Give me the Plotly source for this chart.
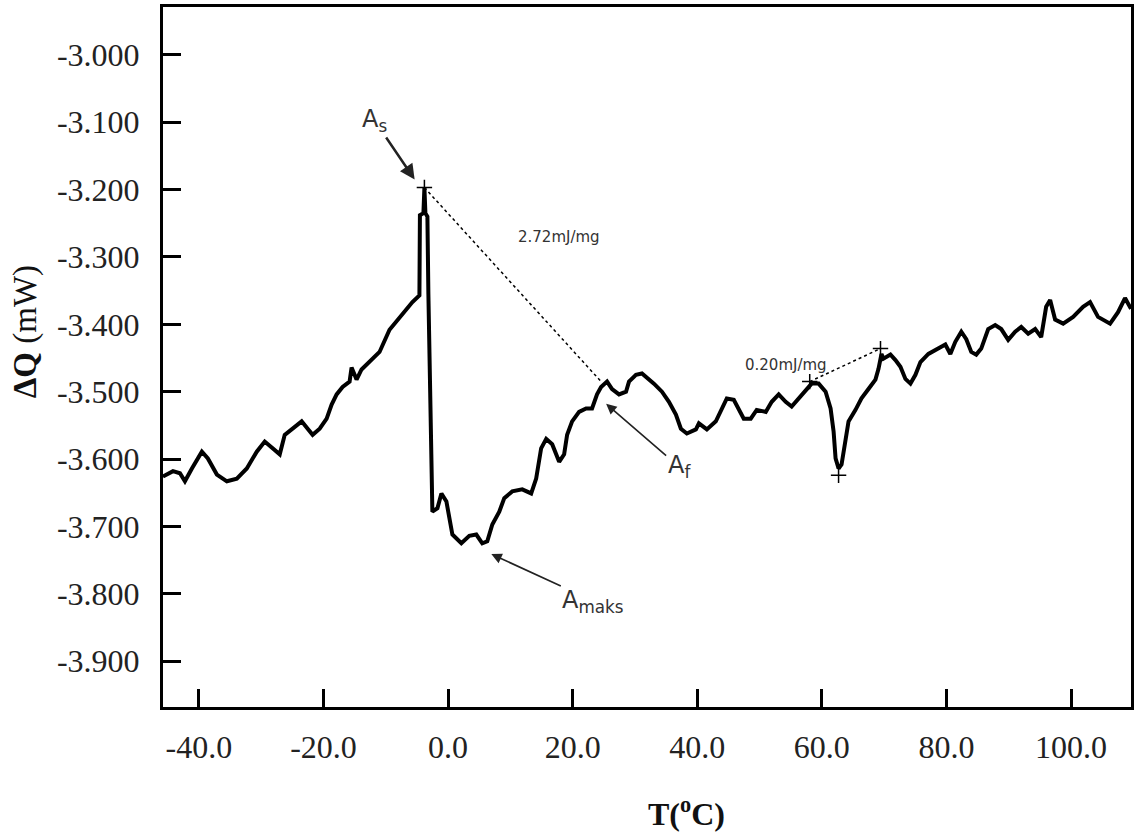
import plotly.graph_objects as go

# DSC heating scan: heat flow vs temperature
temperature_c = [
    -45.77, -44.16, -43.04, -42.24, -41.12, -39.52, -38.56, -37.11, -35.51, -33.91,
    -32.31, -30.71, -29.43, -28.14, -27.02, -26.22, -24.94, -23.50, -22.54, -21.74,
    -20.61, -19.49, -18.69, -17.89, -16.93, -15.81, -15.49, -14.69, -13.89, -12.61,
    -11.00, -9.40, -8.12, -6.68, -5.72, -4.60, -4.52, -3.96, -3.80, -3.64,
    -3.32, -3.16, -2.84, -2.68, -2.52, -1.71, -1.07, -0.27, 0.21, 0.69,
    2.13, 3.41, 4.53, 5.49, 6.29, 7.10, 8.22, 9.02, 10.30, 11.90,
    13.34, 14.14, 14.94, 15.75, 16.71, 17.83, 18.63, 19.11, 19.91, 21.03,
    22.15, 23.11, 23.91, 24.56, 25.52, 26.32, 27.44, 28.56, 29.04, 30.16,
    31.12, 32.24, 33.04, 34.33, 35.45, 36.57, 37.37, 38.33, 39.78, 40.26,
    41.54, 42.98, 43.94, 44.74, 45.86, 46.66, 47.46, 48.58, 49.54, 50.99,
    51.95, 53.07, 54.19, 55.15, 56.27, 57.39, 58.36, 59.48, 60.60, 61.40,
    61.88, 62.20, 62.68, 63.16, 63.80, 64.28, 65.40, 66.36, 67.48, 68.60,
    69.09, 69.57, 69.89, 71.01, 71.81, 72.61, 73.41, 74.22, 75.02, 75.82,
    77.10, 78.70, 79.82, 80.62, 81.42, 82.38, 83.18, 83.98, 84.78, 85.58,
    86.70, 87.82, 88.79, 89.91, 91.03, 92.00, 93.12, 94.24, 95.20, 96.00,
    96.64, 97.44, 98.73, 100.33, 101.93, 103.05, 104.33, 106.26, 107.54, 108.66,
    109.62,
]
heat_flow_mw = [
    -3.626, -3.618, -3.621, -3.633, -3.614, -3.589, -3.599, -3.623, -3.633, -3.629,
    -3.614, -3.589, -3.574, -3.584, -3.593, -3.564, -3.555, -3.544, -3.555, -3.564,
    -3.555, -3.540, -3.519, -3.504, -3.493, -3.485, -3.464, -3.482, -3.467, -3.456,
    -3.441, -3.408, -3.393, -3.377, -3.367, -3.357, -3.238, -3.235, -3.197, -3.235,
    -3.240, -3.355, -3.515, -3.633, -3.678, -3.673, -3.651, -3.663, -3.688, -3.712,
    -3.725, -3.714, -3.712, -3.725, -3.722, -3.697, -3.678, -3.658, -3.648, -3.645,
    -3.651, -3.629, -3.584, -3.570, -3.578, -3.604, -3.593, -3.564, -3.544, -3.530,
    -3.525, -3.525, -3.504, -3.493, -3.485, -3.496, -3.504, -3.500, -3.485, -3.475,
    -3.473, -3.481, -3.488, -3.500, -3.515, -3.534, -3.555, -3.562, -3.556, -3.547,
    -3.556, -3.544, -3.525, -3.510, -3.512, -3.525, -3.540, -3.540, -3.527, -3.530,
    -3.515, -3.504, -3.515, -3.522, -3.510, -3.497, -3.488, -3.488, -3.500, -3.525,
    -3.559, -3.599, -3.614, -3.608, -3.574, -3.544, -3.527, -3.510, -3.496, -3.482,
    -3.466, -3.444, -3.451, -3.445, -3.453, -3.463, -3.481, -3.488, -3.475, -3.456,
    -3.444, -3.436, -3.430, -3.444, -3.426, -3.411, -3.422, -3.441, -3.445, -3.436,
    -3.407, -3.401, -3.407, -3.423, -3.411, -3.404, -3.414, -3.407, -3.419, -3.374,
    -3.364, -3.393, -3.399, -3.389, -3.374, -3.367, -3.389, -3.399, -3.382, -3.361,
    -3.377,
]

# Baseline constructions used for the enthalpy integrals
baseline1_t = [-3.80, 24.56]
baseline1_q = [-3.197, -3.485]
baseline2_t = [58.05, 69.41]
baseline2_q = [-3.485, -3.436]

# Small cross markers on the construction points
cross_t = [-3.80, 58.05, 69.41, 62.68]
cross_q = [-3.197, -3.485, -3.436, -3.624]

x_tick_vals = [-40, -20, 0, 20, 40, 60, 80, 100]
x_tick_labels = ["-40.0", "-20.0", "0.0", "20.0", "40.0", "60.0", "80.0", "100.0"]
y_tick_vals = [-3.0, -3.1, -3.2, -3.3, -3.4, -3.5, -3.6, -3.7, -3.8, -3.9]
y_tick_labels = ["-3.000", "-3.100", "-3.200", "-3.300", "-3.400",
                 "-3.500", "-3.600", "-3.700", "-3.800", "-3.900"]

fig = go.Figure()

fig.add_trace(go.Scatter(
    x=baseline1_t, y=baseline1_q, mode="lines",
    line=dict(color="black", width=1.5, dash="dot"), hoverinfo="skip",
))
fig.add_trace(go.Scatter(
    x=baseline2_t, y=baseline2_q, mode="lines",
    line=dict(color="black", width=1.5, dash="dot"), hoverinfo="skip",
))
fig.add_trace(go.Scatter(
    x=temperature_c, y=heat_flow_mw, mode="lines",
    line=dict(color="black", width=4), line_shape="linear",
))
fig.add_trace(go.Scatter(
    x=cross_t, y=cross_q, mode="markers",
    marker=dict(symbol="cross-thin", size=11, line=dict(color="black", width=1.5)),
    hoverinfo="skip",
))

serif = "Liberation Serif"
sans = "DejaVu Sans"
axis_style = dict(
    showline=True, linecolor="black", linewidth=3, mirror=True,
    ticks="inside", ticklen=18, tickwidth=3, tickcolor="black",
    showgrid=False, zeroline=False,
    tickfont=dict(family=serif, size=32, color="#222222"),
)

fig.update_xaxes(range=[-45.76, 109.62], tickmode="array",
                 tickvals=x_tick_vals, ticktext=x_tick_labels,
                 ticklabelstandoff=10, **axis_style)
fig.update_yaxes(range=[-3.968, -2.929], tickmode="array",
                 tickvals=y_tick_vals, ticktext=y_tick_labels,
                 ticklabelstandoff=14, **axis_style)

ann_font = dict(family=sans, size=24, color="#333333")
small_font = dict(family=sans, size=15, color="#333333")

annotations = [
    # labelled arrows (arrow runs from the label to the marked point)
    dict(x=-5.37, y=-3.185, text="A<sub>s</sub>", font=ann_font,
         showarrow=True, ax=-40, ay=-59, xanchor="center", yanchor="middle",
         arrowhead=2, arrowsize=1.2, arrowwidth=2.5, arrowcolor="#222222"),
    dict(x=25.37, y=-3.518, text="A<sub>f</sub>", font=ann_font,
         showarrow=True, ax=73, ay=63, xanchor="center", yanchor="middle",
         arrowhead=2, arrowsize=1.3, arrowwidth=1.6, arrowcolor="#222222"),
    dict(x=6.94, y=-3.741, text="A<sub>maks</sub>", font=ann_font,
         showarrow=True, ax=102, ay=47, xanchor="center", yanchor="middle",
         arrowhead=2, arrowsize=1.3, arrowwidth=1.6, arrowcolor="#222222"),
    # enthalpy values
    dict(x=17.83, y=-3.271, text="2.72mJ/mg", font=small_font, showarrow=False),
    dict(x=54.19, y=-3.460, text="0.20mJ/mg", font=small_font, showarrow=False),
    # axis titles
    dict(xref="paper", yref="paper", x=0.541, y=-0.15,
         xanchor="center", yanchor="middle",
         text="<b>T(<sup>o</sup>C)</b>", showarrow=False,
         font=dict(family=serif, size=32, color="#111111")),
    dict(xref="paper", yref="paper", x=-0.142, y=0.536,
         xanchor="center", yanchor="middle",
         text="<b>ΔQ</b> (mW)", textangle=-90, showarrow=False,
         font=dict(family=serif, size=33, color="#111111")),
]

fig.update_layout(
    width=1138, height=839,
    margin=dict(l=163, r=5, t=4, b=132),
    paper_bgcolor="white", plot_bgcolor="white",
    showlegend=False,
    annotations=annotations,
)

fig.write_html("out.html")
